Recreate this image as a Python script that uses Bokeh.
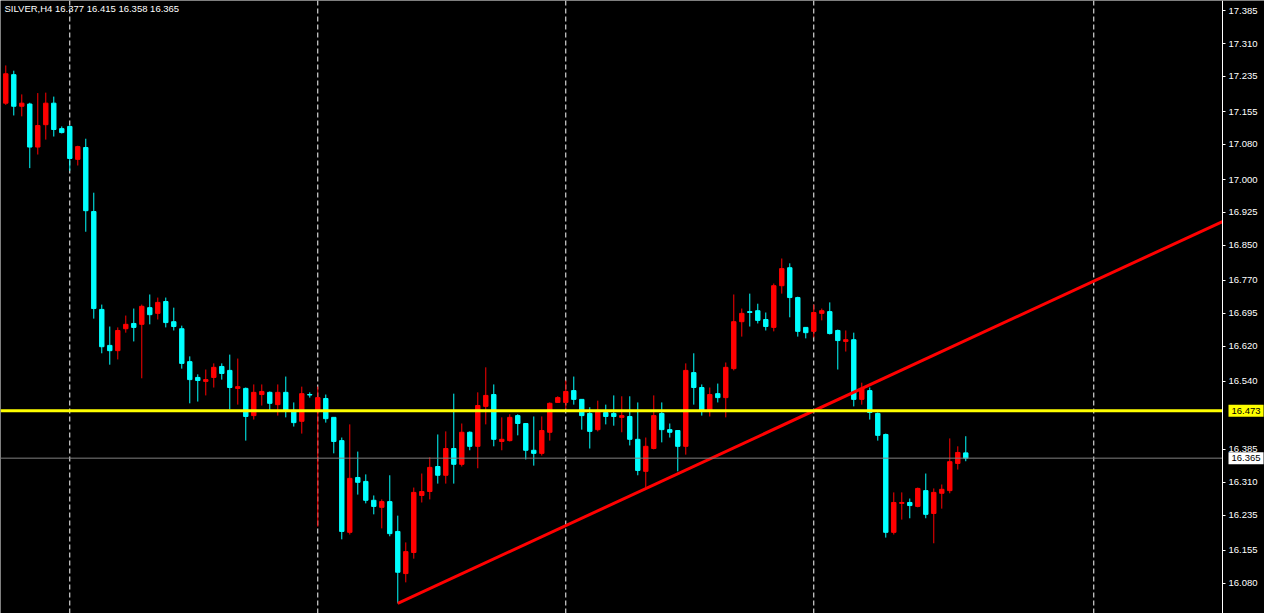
from bokeh.plotting import figure
from bokeh.models import Range1d, FixedTicker, PrintfTickFormatter, Span, Label, ColumnDataSource
from bokeh.embed import file_html
from bokeh.resources import INLINE

# ---------------- data ----------------
symbol = "SILVER"
timeframe = "H4"

opens = [17.174, 17.239, 17.167, 17.172, 17.074, 17.125, 17.174, 17.116, 17.121, 17.046,
         17.073, 16.927, 16.704, 16.622, 16.610, 16.660, 16.672, 16.670, 16.708, 16.695,
         16.722, 16.676, 16.660, 16.585, 16.549, 16.540, 16.549, 16.574, 16.565, 16.524,
         16.524, 16.462, 16.510, 16.515, 16.487, 16.515, 16.474, 16.449, 16.510, 16.471,
         16.501, 16.458, 16.405, 16.196, 16.321, 16.312, 16.269, 16.253, 16.266, 16.198,
         16.102, 16.150, 16.280, 16.289, 16.346, 16.326, 16.387, 16.351, 16.424, 16.392,
         16.483, 16.510, 16.403, 16.405, 16.462, 16.444, 16.383, 16.376, 16.424, 16.492,
         16.492, 16.519, 16.499, 16.467, 16.430, 16.469, 16.467, 16.458, 16.460, 16.408,
         16.335, 16.387, 16.467, 16.430, 16.428, 16.392, 16.560, 16.526, 16.474, 16.512,
         16.503, 16.569, 16.676, 16.699, 16.701, 16.681, 16.663, 16.758, 16.799, 16.731,
         16.663, 16.654, 16.695, 16.699, 16.656, 16.631, 16.635, 16.499, 16.519, 16.467,
         16.419, 16.196, 16.262, 16.264, 16.255, 16.291, 16.239, 16.285, 16.291, 16.353,
         16.377]
highs = [17.260, 17.248, 17.194, 17.175, 17.197, 17.198, 17.189, 17.121, 17.123, 17.077,
         17.093, 16.970, 16.715, 16.665, 16.663, 16.690, 16.706, 16.715, 16.738, 16.731,
         16.731, 16.708, 16.667, 16.597, 16.556, 16.567, 16.581, 16.581, 16.601, 16.592,
         16.526, 16.533, 16.533, 16.517, 16.533, 16.551, 16.492, 16.528, 16.515, 16.528,
         16.510, 16.458, 16.412, 16.442, 16.380, 16.328, 16.280, 16.271, 16.326, 16.234,
         16.173, 16.298, 16.330, 16.367, 16.419, 16.426, 16.512, 16.444, 16.426, 16.515,
         16.572, 16.533, 16.458, 16.465, 16.465, 16.444, 16.460, 16.460, 16.492, 16.506,
         16.542, 16.551, 16.499, 16.481, 16.496, 16.487, 16.508, 16.506, 16.506, 16.492,
         16.412, 16.508, 16.492, 16.444, 16.428, 16.581, 16.604, 16.533, 16.526, 16.535,
         16.583, 16.738, 16.706, 16.740, 16.717, 16.697, 16.763, 16.820, 16.809, 16.733,
         16.663, 16.715, 16.706, 16.720, 16.658, 16.656, 16.651, 16.537, 16.526, 16.469,
         16.421, 16.287, 16.287, 16.273, 16.298, 16.330, 16.296, 16.305, 16.410, 16.392,
         16.415]
lows = [17.170, 17.146, 17.144, 17.026, 17.057, 17.091, 17.098, 17.105, 17.020, 17.032,
        16.881, 16.683, 16.604, 16.578, 16.590, 16.651, 16.631, 16.547, 16.670, 16.681,
        16.663, 16.656, 16.569, 16.490, 16.494, 16.508, 16.526, 16.544, 16.476, 16.487,
        16.405, 16.453, 16.485, 16.474, 16.462, 16.458, 16.437, 16.421, 16.503, 16.209,
        16.446, 16.376, 16.180, 16.191, 16.282, 16.262, 16.237, 16.205, 16.187, 16.034,
        16.082, 16.136, 16.264, 16.271, 16.307, 16.307, 16.307, 16.346, 16.383, 16.342,
        16.442, 16.392, 16.383, 16.403, 16.417, 16.362, 16.348, 16.371, 16.405, 16.492,
        16.478, 16.487, 16.430, 16.387, 16.426, 16.442, 16.439, 16.424, 16.394, 16.326,
        16.298, 16.385, 16.401, 16.412, 16.335, 16.373, 16.487, 16.462, 16.460, 16.492,
        16.458, 16.565, 16.642, 16.665, 16.672, 16.656, 16.654, 16.740, 16.686, 16.642,
        16.638, 16.640, 16.679, 16.647, 16.567, 16.608, 16.483, 16.487, 16.453, 16.405,
        16.184, 16.191, 16.225, 16.228, 16.253, 16.228, 16.171, 16.250, 16.285, 16.339,
        16.358]
closes = [17.241, 17.167, 17.174, 17.074, 17.123, 17.174, 17.114, 17.107, 17.048, 17.075,
          16.929, 16.706, 16.619, 16.610, 16.656, 16.670, 16.663, 16.711, 16.692, 16.720,
          16.674, 16.665, 16.581, 16.544, 16.542, 16.544, 16.572, 16.558, 16.526, 16.528,
          16.460, 16.515, 16.517, 16.490, 16.515, 16.474, 16.446, 16.512, 16.509, 16.503,
          16.455, 16.403, 16.198, 16.319, 16.310, 16.269, 16.255, 16.266, 16.193, 16.105,
          16.152, 16.287, 16.289, 16.344, 16.326, 16.387, 16.351, 16.424, 16.392, 16.485,
          16.508, 16.408, 16.408, 16.458, 16.444, 16.383, 16.376, 16.428, 16.490, 16.503,
          16.517, 16.499, 16.462, 16.426, 16.474, 16.460, 16.460, 16.462, 16.408, 16.337,
          16.392, 16.462, 16.430, 16.424, 16.392, 16.565, 16.526, 16.474, 16.510, 16.503,
          16.572, 16.676, 16.695, 16.697, 16.679, 16.665, 16.758, 16.797, 16.731, 16.654,
          16.651, 16.697, 16.701, 16.649, 16.633, 16.635, 16.499, 16.524, 16.469, 16.417,
          16.196, 16.264, 16.264, 16.257, 16.296, 16.237, 16.287, 16.294, 16.357, 16.378,
          16.365]

level_price = 16.473          # yellow horizontal level
bid_price = 16.365            # grey bid line
separator_idx = [8, 39, 70, 101, 136]   # dashed period separators (bar index)
trend_idx = [49, 101]         # trendline anchor bars
trend_price = [16.034, 16.473]
tick_values = [17.385, 17.310, 17.235, 17.155, 17.080, 17.000, 16.925, 16.850,
               16.770, 16.695, 16.620, 16.540, 16.385, 16.310, 16.235, 16.155, 16.080]

# ---------------- styling / layout ----------------
BULL = "#FF0000"
BEAR = "#00FFFF"
FONT = "Liberation Sans"
W, H = 1264, 613
X_LO, X_HI = -0.66, 157.34     # full canvas width (price scale drawn inside)
X_AXIS = 152.09                # where the price scale sits
Y_LO, Y_HI = 16.011, 17.408
AXIS_PX = 1222

n = len(opens)
idx = list(range(n))
colors = [BULL if c > o else BEAR for o, c in zip(opens, closes)]
src = ColumnDataSource(dict(
    x=idx, high=highs, low=lows,
    top=[max(o, c) for o, c in zip(opens, closes)],
    bottom=[min(o, c) for o, c in zip(opens, closes)],
    color=colors,
))

p = figure(width=W, height=H, output_backend="svg", toolbar_location=None,
           x_range=Range1d(X_LO, X_HI), y_range=Range1d(Y_LO, Y_HI),
           y_axis_location="right", x_axis_location=None,
           background_fill_color="black", border_fill_color="black",
           min_border=0, outline_line_color=None)
p.grid.visible = False

ax = p.yaxis[0]
ax.fixed_location = X_AXIS
ax.ticker = FixedTicker(ticks=tick_values)
ax.formatter = PrintfTickFormatter(format="%.3f")
ax.axis_line_color = "white"
ax.major_tick_line_color = "white"
ax.major_tick_out = 3
ax.major_tick_in = 0
ax.minor_tick_line_color = None
ax.major_label_text_color = "white"
ax.major_label_text_font = FONT
ax.major_label_text_font_size = "9.5px"
ax.major_label_standoff = 3

# period separators
for s in separator_idx:
    p.add_layout(Span(location=s, dimension="height", line_color="white",
                      line_width=1, line_dash="5 3", level="underlay"))

# candles
p.segment(x0="x", y0="low", x1="x", y1="high", color="color", line_width=1, source=src)
p.vbar(x="x", top="top", bottom="bottom", width=0.55, fill_color="color",
       line_color="color", line_width=1, source=src)

# trendline (ray extended to the price scale)
slope = (trend_price[1] - trend_price[0]) / (trend_idx[1] - trend_idx[0])
tx = [trend_idx[0], X_AXIS]
ty = [trend_price[0], trend_price[0] + slope * (X_AXIS - trend_idx[0])]
p.line(tx, ty, line_color=BULL, line_width=3)

# horizontal level and bid line (stop at the price scale)
p.line([X_LO, X_AXIS], [level_price, level_price], line_color="#FFFF00", line_width=3)
p.line([X_LO, X_AXIS], [bid_price, bid_price], line_color="#808080", line_width=1)

# price tags on the price scale
p.add_layout(Label(x=AXIS_PX + 6, y=level_price, x_units="screen", y_units="data",
                   text=f"{level_price:.3f}", text_color="black", text_font=FONT,
                   text_font_size="9.5px", text_baseline="middle", text_align="left",
                   background_fill_color="#FFFF00", padding=3))
p.add_layout(Label(x=AXIS_PX + 6, y=bid_price, x_units="screen", y_units="data",
                   text=f"{bid_price:.3f}", text_color="black", text_font=FONT,
                   text_font_size="9.5px", text_baseline="middle", text_align="left",
                   background_fill_color="white", padding=3))

# header text
header = f"{symbol},{timeframe}  {opens[-1]:.3f} {highs[-1]:.3f} {lows[-1]:.3f} {closes[-1]:.3f}"
p.add_layout(Label(x=4, y=H - 2, x_units="screen", y_units="screen", text=header,
                   text_color="white", text_font=FONT, text_font_size="9.5px",
                   text_baseline="top", text_align="left"))

open("out.html", "w").write(file_html(p, INLINE))
